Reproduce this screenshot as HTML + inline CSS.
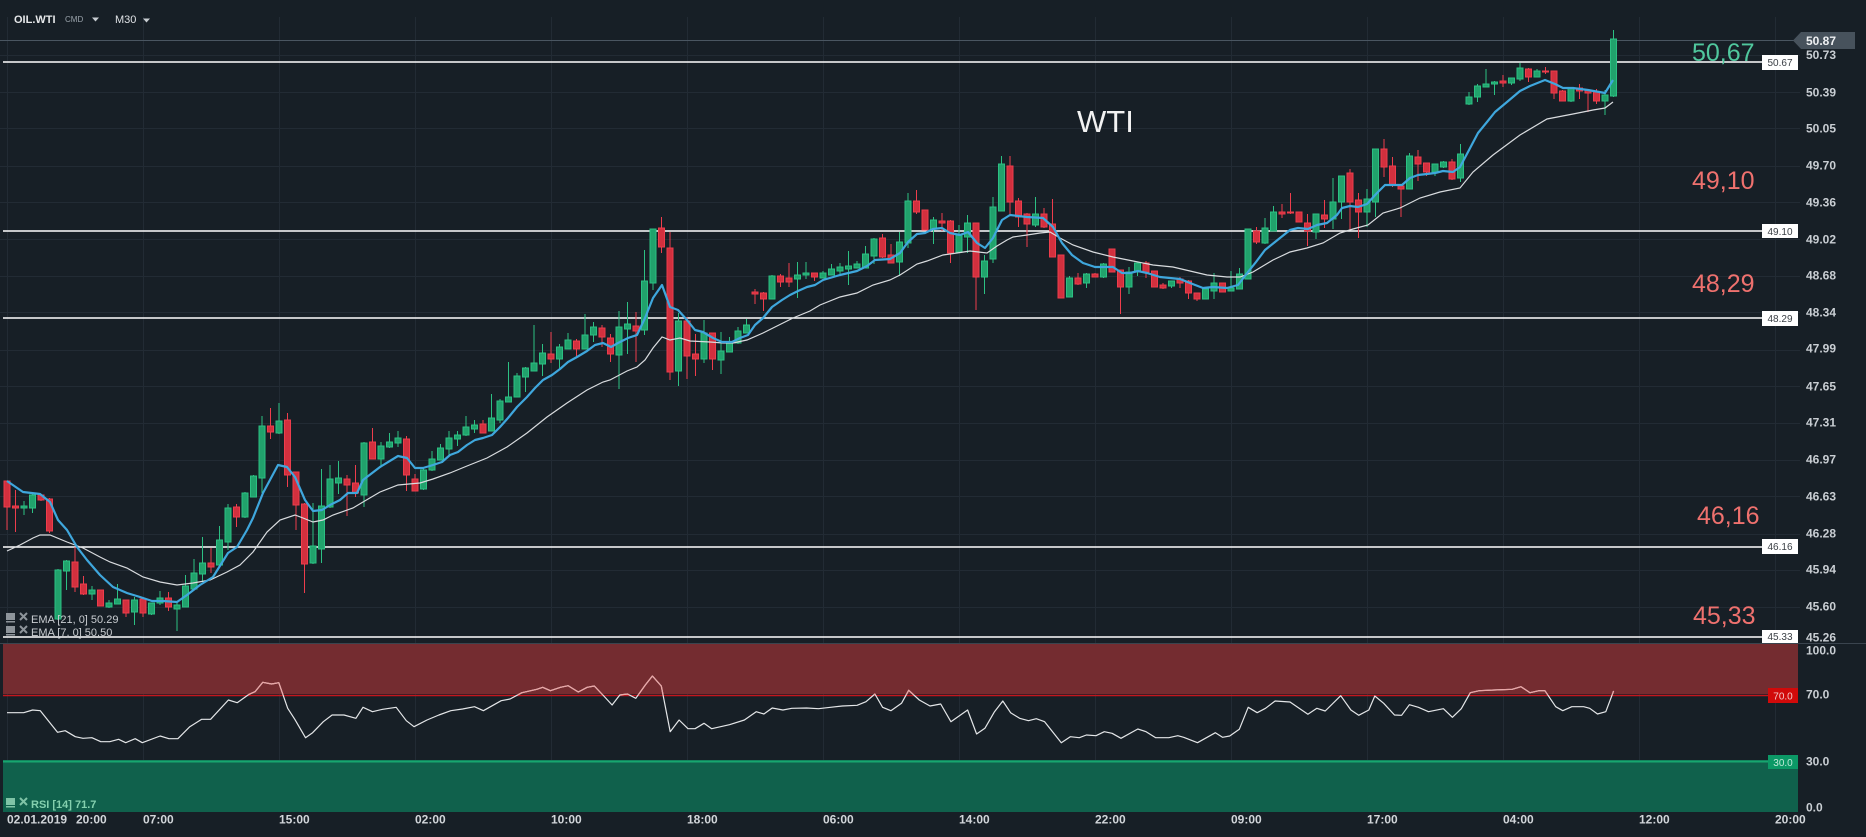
<!DOCTYPE html>
<html><head><meta charset="utf-8"><style>
html,body{margin:0;padding:0;background:#171f26;}
svg{display:block;font-family:"Liberation Sans",sans-serif;}
</style></head><body>
<svg width="1866" height="837" viewBox="0 0 1866 837" xmlns="http://www.w3.org/2000/svg">
<rect width="1866" height="837" fill="#171f26"/>
<defs><clipPath id="ob"><rect x="0" y="640" width="1800" height="55"/></clipPath>
<polyline id="rsi" fill="none" stroke-width="1.2" stroke-linejoin="round" points="7,712.7 23.7,712.7 32.6,710 40.3,710.7 57.5,732.3 65.2,730.7 75.3,736.7 83,738.3 91.9,737.7 100.8,741.7 109.7,741.7 118.6,739.3 125.7,742.7 135.2,738.7 142.3,742.7 160.1,736 169,738.7 177.9,738.7 189.8,726.7 201.7,719.3 210.6,719.3 228.4,700 237.2,702.7 249.1,694.3 255,691.7 262.8,682.3 271.6,684 278.8,682.7 287.7,708.3 294.8,719.3 305.5,737.7 312.6,732.7 323.3,721.7 332.1,715 344,715 355.9,718.3 363,707.3 372.5,711.7 382.6,709.3 396.2,707.3 406.3,720.7 414,726.7 427,720 438.9,715 450.8,710.7 462.6,709 474.5,706.7 483.4,710.7 501.2,700.7 510.1,699 521.9,692.7 536.8,689.3 542.7,687.3 550.4,690.7 560.5,687.3 568.2,685.7 578.3,692 587.2,687.3 594.3,686 603.8,696 612.1,705 619.8,695 627.5,694 635.8,698.3 645.3,685 652.4,676 661.3,686 670.2,731.7 679.1,720 688,728.7 695.1,728.7 704,723.3 711.7,728.7 729.5,724.7 744.4,720 756.2,711.7 763.9,714 772.2,708 782.9,710 791.8,708.3 806.6,708 818.5,708.7 830.4,707.3 842.2,706 857.1,705.3 866,701.7 874.9,694 882.6,707.3 890.9,710.7 901.5,703.3 908.7,690.3 919.3,700 930,706 940.7,704 950.9,721.7 967.6,710 976.6,734 984.9,728.3 994.5,711.7 1002.8,701 1010.6,712.7 1019.6,718.3 1028.5,720.7 1036.3,718.7 1044.6,721.7 1061.3,742.7 1070.3,736.7 1079.3,737.7 1086.4,735 1096,735.7 1104.3,731.7 1112.1,733.3 1121,738.3 1137.8,729 1146.1,731.7 1155.7,737.7 1168.8,737.7 1177.8,735.7 1183.7,737.3 1197.5,742.7 1215.4,732.7 1222.5,737.3 1229.7,736 1239.3,729.3 1248.2,707.3 1257.2,712.7 1265.5,708.3 1275.1,701 1290,702 1307.9,714.3 1316.9,708.3 1325.2,711 1340.7,695.7 1350.9,710 1358.7,715.3 1368.8,710 1374.8,696 1383.7,703.3 1394.5,715 1401.6,715.3 1409.4,704.7 1418.4,707.3 1428.5,711.7 1443.4,708.7 1452.4,717.3 1461.3,708.7 1470.3,692.7 1479.3,690.7 1494.2,690 1512.2,689.3 1521,686.7 1530,692.7 1539,690.7 1544.9,690.7 1555.7,706.7 1562.8,710.7 1571.8,706.7 1583.7,706.7 1589.7,708.3 1597.5,714 1605.8,711.7 1613.6,691"/>
</defs>
<!-- grid -->
<g stroke="#222b34" stroke-width="1">
<path d="M7.5 17V812M143.5 17V812M279.5 17V812M415.5 17V812M551.5 17V812M687.5 17V812M823.5 17V812M959.5 17V812M1095.5 17V812M1231.5 17V812M1367.5 17V812M1503.5 17V812M1639.5 17V812M1775.5 17V812"/>
<path d="M0 55.5H1800M0 92.5H1800M0 128.5H1800M0 166.5H1800M0 202.5H1800M0 239.5H1800M0 276.5H1800M0 312.5H1800M0 350.5H1800M0 386.5H1800M0 423.5H1800M0 460.5H1800M0 496.5H1800M0 534.5H1800M0 570.5H1800M0 607.5H1800"/>
</g>
<!-- toolbar -->
<text x="14" y="23" font-size="11" font-weight="bold" fill="#e6e8ea">OIL.WTI</text>
<text x="65" y="22" font-size="8" fill="#9aa3ab">CMD</text>
<path d="M92 17.5h7l-3.5 4z" fill="#c8cdd2"/>
<text x="115" y="23" font-size="11" fill="#dfe2e5">M30</text>
<path d="M143 18.5h7l-3.5 4z" fill="#c8cdd2"/>
<!-- current price line -->
<path d="M0 40.5H1796" stroke="#4a5661" stroke-width="1"/>
<!-- horizontal levels -->
<g stroke="#ffffff" stroke-width="1.5">
<path d="M3 62H1762M3 231H1762M3 318H1762M3 547H1762M3 637H1762"/>
</g>
<!-- separator -->
<path d="M0 643.5H1866" stroke="#3a444e" stroke-width="1"/>
<!-- RSI bands -->
<rect x="3" y="644" width="1795" height="50" fill="#742c30"/>
<path d="M3 695.5H1798" stroke="#c3161d" stroke-width="1.5"/>
<rect x="3" y="760" width="1795" height="52" fill="#10614c"/>
<path d="M3 761.5H1798" stroke="#17a66f" stroke-width="2"/>
<!-- candles green -->
<path fill="none" stroke="#2cc083" stroke-width="1" d="M24 501V515M32.5 493V513M58 569V620M66.5 560V590M92 586V600M109 600V608M117.5 584V604M134.5 597V625M151.5 603V615M160 591V605M177 603V631M185.5 575V607M194 559V590M202.5 537V582M219.5 526V567M228 504V550M245 492V518M253.5 475V497M262 416V493M279 403V434M313 503V564M321.5 469V563M330 465V508M338.5 461V494M364 442V507M381 442V467M389.5 433V448M398 431V447M423.5 467V490M432 451V471M440.5 444V460M449 431V456M457.5 431V446M466 416V436M474.5 420V433M491.5 394V431M500 399V423M508.5 362V402M517 373V397M525.5 367V392M534 325V371M542.5 344V376M559.5 344V369M568 333V349M585 314V349M593.5 322V342M619 311V389M627.5 302V354M644.5 250V335M653 229V290M678.5 313V386M704 320V363M721 332V374M729.5 337V352M738 327V344M746.5 319V333M772 275V299M797.5 262V298M806 262V279M823 271V278M831.5 264V275M840 263V275M848.5 251V285M857 261V268M865.5 246V268M874 238V264M899.5 232V276M908 193V248M933.5 217V244M959 225V253M967.5 215V253M984.5 255V294M993 197V263M1001.5 156V211M1035.5 197V227M1069.5 276V297M1086.5 273V288M1103.5 263V278M1129 267V294M1137.5 263V276M1171.5 281V288M1205.5 289V299M1214 273V299M1231 271V291M1239.5 268V289M1248 229V279M1265 218V244M1273.5 206V231M1316 214V239M1333 178V229M1341.5 176V219M1367 189V227M1375.5 149V217M1409.5 153V189M1435 164V176M1443.5 161V168M1460.5 144V182M1469 92V105M1477.5 84V102M1486 69V87M1494.5 81V95M1511.5 78V85M1520 63V81M1537 69V77M1571 87V102M1605 90V115M1613.5 30V97"/>
<path fill="#21a26c" stroke="#2cc083" stroke-width="1" d="M21 506h6v2h-6zM29.5 495h6v13h-6zM55 570h6v49h-6zM63.5 561h6v10h-6zM89 590h6v4h-6zM106 603h6v4h-6zM114.5 599h6v5h-6zM131.5 600h6v12h-6zM148.5 603h6v11h-6zM157 598h6v5h-6zM174 605h6v4h-6zM182.5 586h6v21h-6zM191 573h6v16h-6zM199.5 563h6v11h-6zM216.5 540h6v25h-6zM225 508h6v34h-6zM242 493h6v24h-6zM250.5 476h6v21h-6zM259 426h6v52h-6zM276 421h6v12h-6zM310 546h6v17h-6zM318.5 506h6v43h-6zM327 479h6v28h-6zM335.5 478h6v5h-6zM361 443h6v52h-6zM378 446h6v13h-6zM386.5 442h6v5h-6zM395 438h6v5h-6zM420.5 470h6v19h-6zM429 459h6v11h-6zM437.5 448h6v12h-6zM446 438h6v11h-6zM454.5 435h6v4h-6zM463 427h6v8h-6zM471.5 425h6v4h-6zM488.5 418h6v13h-6zM497 401h6v19h-6zM505.5 397h6v5h-6zM514 376h6v21h-6zM522.5 368h6v9h-6zM531 363h6v8h-6zM539.5 353h6v11h-6zM556.5 347h6v12h-6zM565 340h6v9h-6zM582 335h6v14h-6zM590.5 327h6v8h-6zM616 327h6v28h-6zM624.5 324h6v5h-6zM641.5 281h6v49h-6zM650 229h6v54h-6zM675.5 321h6v50h-6zM701 333h6v26h-6zM718 351h6v9h-6zM726.5 343h6v9h-6zM735 331h6v12h-6zM743.5 325h6v8h-6zM769 276h6v23h-6zM794.5 275h6v4h-6zM803 273h6v2h-6zM820 273h6v5h-6zM828.5 269h6v6h-6zM837 267h6v4h-6zM845.5 266h6v3h-6zM854 264h6v4h-6zM862.5 254h6v14h-6zM871 239h6v17h-6zM896.5 242h6v20h-6zM905 201h6v42h-6zM930.5 220h6v9h-6zM956 235h6v17h-6zM964.5 223h6v14h-6zM981.5 261h6v16h-6zM990 207h6v52h-6zM998.5 164h6v47h-6zM1032.5 214h6v11h-6zM1066.5 278h6v19h-6zM1083.5 274h6v9h-6zM1100.5 264h6v13h-6zM1126 272h6v15h-6zM1134.5 263h6v9h-6zM1168.5 281h6v5h-6zM1202.5 289h6v10h-6zM1211 283h6v8h-6zM1228 288h6v3h-6zM1236.5 274h6v15h-6zM1245 229h6v50h-6zM1262 228h6v15h-6zM1270.5 212h6v19h-6zM1313 214h6v18h-6zM1330 202h6v17h-6zM1338.5 176h6v26h-6zM1364 199h6v13h-6zM1372.5 149h6v53h-6zM1406.5 156h6v33h-6zM1432 164h6v8h-6zM1440.5 162h6v5h-6zM1457.5 154h6v24h-6zM1466 97h6v7h-6zM1474.5 86h6v11h-6zM1483 84h6v3h-6zM1491.5 82h6v2h-6zM1508.5 78h6v5h-6zM1517 68h6v11h-6zM1534 71h6v6h-6zM1568 88h6v13h-6zM1602 95h6v6h-6zM1610.5 39h6v57h-6z"/>
<!-- candles red -->
<path fill="none" stroke="#ee3d4c" stroke-width="1" d="M7 481V530M15.5 490V532M41 494V501M49.5 498V533M75 547V592M83.5 576V595M100.5 590V606M126 600V617M143 598V617M168.5 592V611M211 548V573M236.5 504V527M270.5 408V439M287.5 413V487M296 472V530M304.5 503V593M347 475V516M355.5 465V497M372.5 428V459M406.5 436V491M415 474V491M483 420V433M551 332V363M576.5 339V357M602 325V347M610.5 334V362M636 312V362M661.5 217V253M670 232V380M687 317V379M695.5 334V376M712.5 333V370M755 289V304M763.5 292V311M780.5 274V287M789 263V287M814.5 273V281M882.5 234V258M891 244V263M916.5 190V214M925 210V230M942 213V231M950.5 220V263M976 223V310M1010 156V214M1018.5 198V227M1027 213V247M1044 208V228M1052.5 199V257M1061 255V298M1078 273V285M1095 273V277M1112 249V272M1120.5 270V314M1146 261V278M1154.5 271V287M1163 283V289M1180 277V288M1188.5 280V299M1197 293V301M1222.5 283V292M1256.5 227V244M1282 204V218M1290.5 193V214M1299 212V222M1307.5 214V246M1324.5 200V228M1350 169V230M1358.5 193V238M1384 139V177M1392.5 157V187M1401 186V217M1418 150V181M1426.5 163V176M1452 159V180M1503 75V87M1528.5 68V82M1545.5 67V74M1554 71V99M1562.5 90V101M1579.5 84V99M1588 89V112M1596.5 89V104"/>
<path fill="#d2303e" stroke="#ee3d4c" stroke-width="1" d="M4 481h6v26h-6zM12.5 506h6v2h-6zM38 495h6v5h-6zM46.5 499h6v32h-6zM72 562h6v25h-6zM80.5 584h6v10h-6zM97.5 590h6v16h-6zM123 600h6v13h-6zM140 599h6v14h-6zM165.5 598h6v9h-6zM208 563h6v4h-6zM233.5 507h6v10h-6zM267.5 426h6v6h-6zM284.5 420h6v55h-6zM293 472h6v33h-6zM301.5 504h6v60h-6zM344 479h6v6h-6zM352.5 483h6v10h-6zM369.5 442h6v17h-6zM403.5 439h6v36h-6zM412 479h6v12h-6zM480 424h6v9h-6zM548 354h6v5h-6zM573.5 341h6v8h-6zM599 328h6v9h-6zM607.5 338h6v16h-6zM633 326h6v5h-6zM658.5 228h6v19h-6zM667 248h6v124h-6zM684 321h6v35h-6zM692.5 354h6v5h-6zM709.5 333h6v26h-6zM752 292h6v2h-6zM760.5 293h6v6h-6zM777.5 276h6v6h-6zM786 278h6v4h-6zM811.5 273h6v4h-6zM879.5 238h6v19h-6zM888 255h6v8h-6zM913.5 201h6v11h-6zM922 210h6v20h-6zM939 221h6v2h-6zM947.5 221h6v32h-6zM973 223h6v54h-6zM1007 166h6v36h-6zM1015.5 201h6v16h-6zM1024 214h6v10h-6zM1041 214h6v13h-6zM1049.5 224h6v33h-6zM1058 255h6v43h-6zM1075 278h6v6h-6zM1092 274h6v3h-6zM1109 249h6v23h-6zM1117.5 270h6v17h-6zM1143 263h6v9h-6zM1151.5 271h6v16h-6zM1160 285h6v3h-6zM1177 279h6v4h-6zM1185.5 281h6v12h-6zM1194 293h6v6h-6zM1219.5 283h6v9h-6zM1253.5 231h6v11h-6zM1279 212h6v2h-6zM1287.5 212h6v1h-6zM1296 212h6v10h-6zM1304.5 223h6v8h-6zM1321.5 215h6v4h-6zM1347 173h6v29h-6zM1355.5 200h6v12h-6zM1381 149h6v18h-6zM1389.5 166h6v19h-6zM1398 186h6v3h-6zM1415 157h6v7h-6zM1423.5 163h6v9h-6zM1449 162h6v17h-6zM1500 81h6v2h-6zM1525.5 69h6v8h-6zM1542.5 71h6v1h-6zM1551 71h6v22h-6zM1559.5 91h6v10h-6zM1576.5 88h6v3h-6zM1585 90h6v3h-6zM1593.5 92h6v9h-6z"/>
<!-- EMA 21 white -->
<polyline fill="none" stroke="#d9dcdf" stroke-width="1.2" points="7,551 20,545 33,538 40,535 50,535 67,542 83,548 100,557 110,562 127,568 143,577 160,582 177,585 193,583 210,580 227,572 240,565 253,552 267,532 280,520 295,515 303,518 313,522 323,520 333,515 353,508 363,502 380,492 398,485 420,483 433,479 450,473 467,466 487,458 507,447 527,433 547,417 567,403 587,390 603,382 610,380 627,371 637,367 645,360 653,348 662,337 670,340 680,338 690,341 710,342 723,343 733,343 747,340 763,333 777,326 793,318 810,311 820,305 840,297 857,293 873,285 890,280 900,275 917,264 927,261 943,255 957,253 970,251 987,253 997,246 1007,240 1013,237 1027,235 1040,233 1050,232 1060,238 1073,245 1093,252 1113,257 1133,261 1153,265 1173,267 1190,271 1207,275 1227,277 1240,277 1253,272 1273,260 1290,252 1307,248 1323,243 1340,233 1353,229 1368,225 1383,213 1400,208 1420,198 1440,192 1460,188 1473,172 1493,155 1520,135 1547,119 1573,114 1593,110 1605,108 1613,102"/>
<!-- EMA 7 blue -->
<polyline fill="none" stroke="#3fa7dd" stroke-width="2.2" stroke-linejoin="round" points="7,481 23,492 40,494 50,502 58,520 67,530 77,547 87,560 100,575 113,587 127,593 140,597 152,601 163,601 177,602 187,595 200,585 213,577 228,553 237,547 247,530 253,518 263,493 278,465 287,467 295,477 305,500 313,511 322,510 330,505 340,500 348,493 357,493 363,480 380,467 398,456 407,458 415,468 423,468 433,465 442,462 450,455 458,452 467,445 475,440 483,438 492,435 500,427 508,418 517,407 527,397 535,388 543,380 552,375 560,369 568,362 577,357 587,351 595,345 603,343 611,347 618,343 628,338 637,335 645,318 653,298 662,285 670,307 678,310 687,320 695,330 703,332 713,338 722,342 732,342 740,338 748,335 755,325 763,318 772,307 782,300 790,295 798,291 807,287 815,285 823,280 840,275 857,271 867,266 875,260 890,259 900,253 908,242 917,234 925,233 933,229 942,228 950,233 960,235 968,232 977,243 985,248 993,238 1002,220 1010,215 1027,217 1043,218 1053,227 1062,243 1072,255 1083,263 1095,267 1105,267 1113,267 1122,273 1130,273 1138,271 1147,273 1160,277 1180,279 1190,283 1203,288 1213,287 1227,288 1238,285 1248,272 1256,262 1265,250 1275,242 1290,230 1298,228 1308,229 1317,225 1327,223 1337,215 1342,208 1350,206 1358,207 1367,204 1377,193 1385,185 1393,185 1402,185 1410,178 1418,175 1427,174 1435,173 1443,171 1453,172 1460,167 1468,152 1478,133 1487,122 1495,112 1507,102 1520,91 1530,86 1545,80 1555,84 1563,88 1573,88 1588,90 1605,93 1613,80"/>
<!-- RSI -->
<use href="#rsi" stroke="#e4e6e8"/>
<use href="#rsi" clip-path="url(#ob)" stroke="#e9a5a5"/>
<!-- level labels -->
<g font-size="10" fill="#3a3f45" text-anchor="middle">
<rect x="1762" y="55" width="36" height="15" fill="#ffffff"/><text x="1780" y="66">50.67</text>
<rect x="1762" y="224" width="36" height="14" fill="#ffffff"/><text x="1780" y="235">49.10</text>
<rect x="1762" y="311" width="36" height="15" fill="#ffffff"/><text x="1780" y="322">48.29</text>
<rect x="1762" y="539" width="36" height="15" fill="#ffffff"/><text x="1780" y="550">46.16</text>
<rect x="1762" y="630" width="36" height="13" fill="#ffffff"/><text x="1780" y="640">45.33</text>
</g>
<rect x="1768" y="688" width="30" height="15" fill="#d10a0a"/><text x="1783" y="699.5" font-size="10" fill="#f3c9c9" text-anchor="middle">70.0</text>
<rect x="1768" y="755" width="30" height="14" fill="#0c9966"/><text x="1783" y="766" font-size="10" fill="#bfe9d7" text-anchor="middle">30.0</text>
<!-- current price tag -->
<path d="M1793 40.5L1801 32H1855V49H1801Z" fill="#47525c"/>
<text x="1806" y="45" font-size="12" font-weight="bold" fill="#eef0f2">50.87</text>
<!-- price axis -->
<g font-size="12" font-weight="bold" fill="#c9ced3">
<text x="1806" y="59">50.73</text>
<text x="1806" y="96.5">50.39</text>
<text x="1806" y="132.5">50.05</text>
<text x="1806" y="169.5">49.70</text>
<text x="1806" y="206.5">49.36</text>
<text x="1806" y="243.5">49.02</text>
<text x="1806" y="279.5">48.68</text>
<text x="1806" y="316.5">48.34</text>
<text x="1806" y="352.5">47.99</text>
<text x="1806" y="390.5">47.65</text>
<text x="1806" y="426.5">47.31</text>
<text x="1806" y="463.5">46.97</text>
<text x="1806" y="500.5">46.63</text>
<text x="1806" y="537.5">46.28</text>
<text x="1806" y="573.5">45.94</text>
<text x="1806" y="610.5">45.60</text>
<text x="1806" y="641.5">45.26</text>
<text x="1806" y="654.5">100.0</text>
<text x="1806" y="698.5">70.0</text>
<text x="1806" y="765.5">30.0</text>
<text x="1806" y="811.5">0.0</text>
</g>
<!-- time axis -->
<g font-size="12" font-weight="bold" fill="#d2d6da">
<text x="7" y="823.5">02.01.2019</text>
<text x="76" y="823.5">20:00</text>
<text x="143" y="823.5">07:00</text>
<text x="279" y="823.5">15:00</text>
<text x="415" y="823.5">02:00</text>
<text x="551" y="823.5">10:00</text>
<text x="687" y="823.5">18:00</text>
<text x="823" y="823.5">06:00</text>
<text x="959" y="823.5">14:00</text>
<text x="1095" y="823.5">22:00</text>
<text x="1231" y="823.5">09:00</text>
<text x="1367" y="823.5">17:00</text>
<text x="1503" y="823.5">04:00</text>
<text x="1639" y="823.5">12:00</text>
<text x="1775" y="823.5">20:00</text>
</g>
<!-- legends -->
<g fill="#8d949a">
<rect x="6" y="613" width="9" height="7"/><rect x="6" y="621" width="9" height="1.5"/>
<rect x="6" y="626" width="9" height="7"/><rect x="6" y="634" width="9" height="1.5"/>
</g>
<g stroke="#8d949a" stroke-width="2">
<path d="M20 613l7 7M27 613l-7 7M20 626l7 7M27 626l-7 7"/>
</g>
<text x="31" y="623" font-size="11" fill="#c9cdd1">EMA [21, 0] 50.29</text>
<text x="31" y="636" font-size="11" fill="#c9cdd1">EMA [7, 0] 50.50</text>
<g fill="#7fc3a6"><rect x="6" y="798" width="9" height="7"/><rect x="6" y="806" width="9" height="1.5"/></g>
<path d="M20 798l7 7M27 798l-7 7" stroke="#7fc3a6" stroke-width="2"/>
<text x="31" y="808" font-size="11" font-weight="bold" fill="#84d0ae">RSI [14] 71.7</text>
<!-- annotations -->
<text x="1077" y="132" font-size="31" fill="#f2f2f2">WTI</text>
<g font-size="25">
<text x="1692" y="61" fill="#50c79d">50,67</text>
<text x="1692" y="189" fill="#ef716e">49,10</text>
<text x="1692" y="292" fill="#ef716e">48,29</text>
<text x="1697" y="524" fill="#ef716e">46,16</text>
<text x="1693" y="624" fill="#ef716e">45,33</text>
</g>
</svg>
</body></html>
